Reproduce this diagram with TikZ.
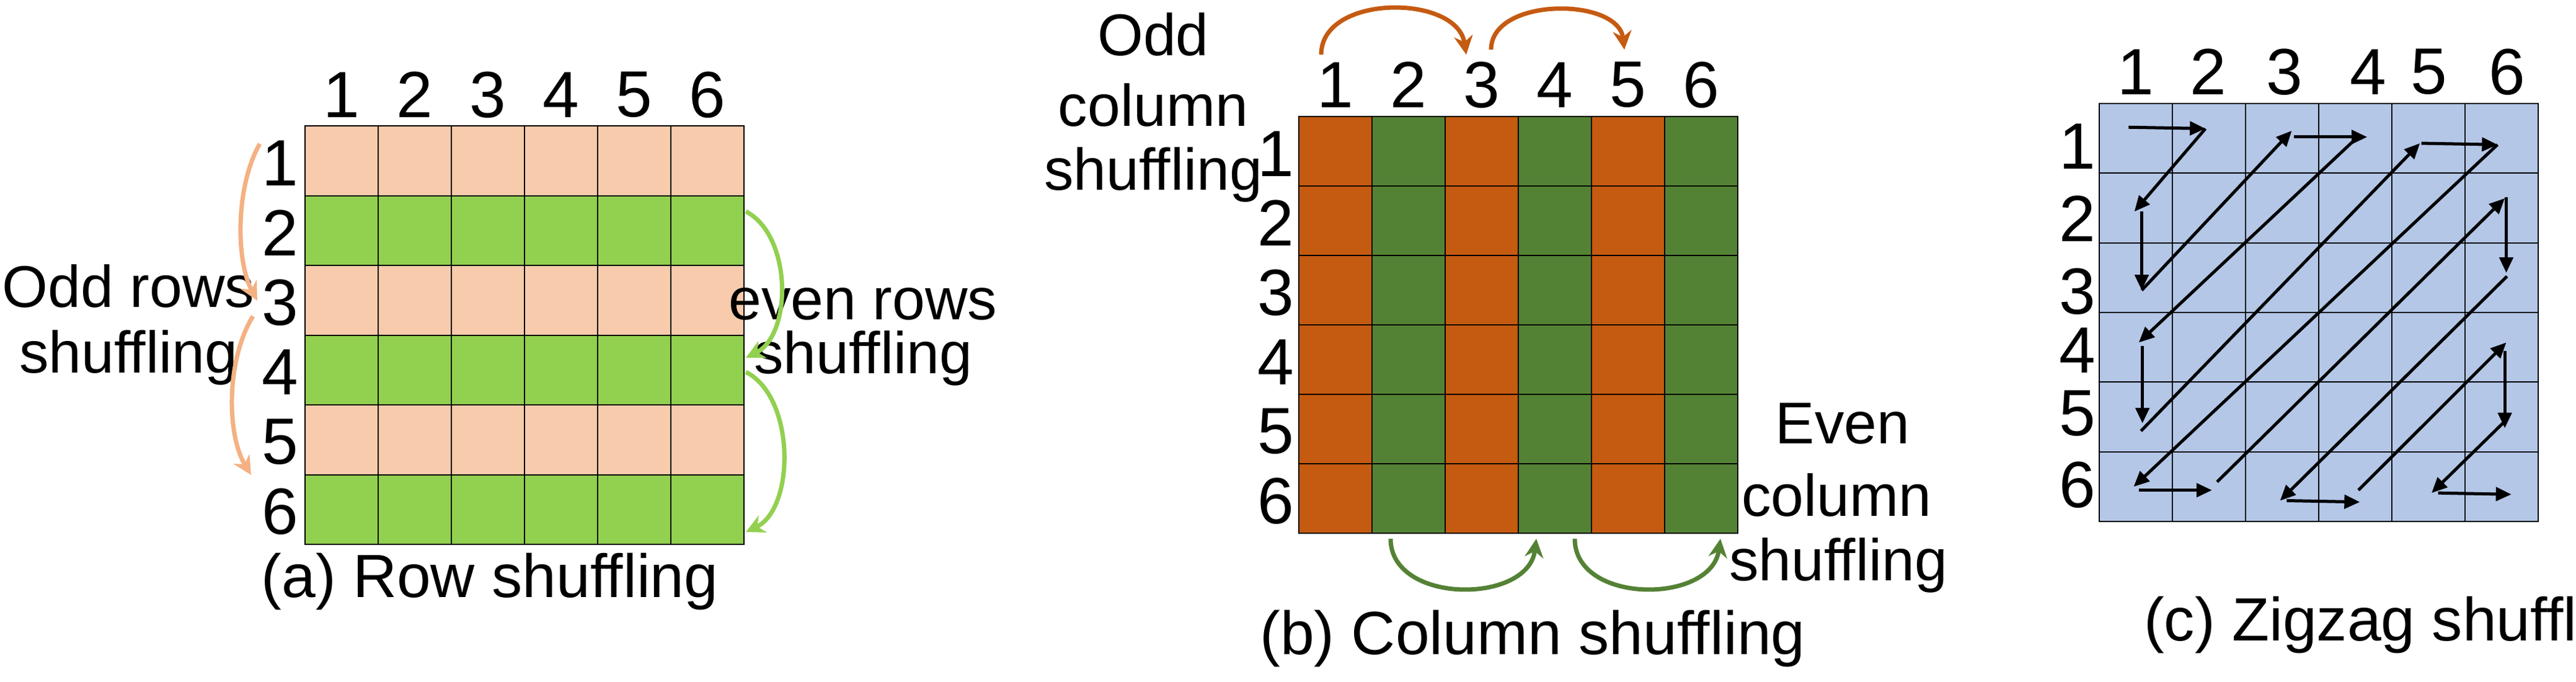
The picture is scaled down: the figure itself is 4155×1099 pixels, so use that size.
\documentclass[tikz,border=0pt]{standalone}
\usepackage{fontspec}
\setmainfont{Liberation Sans}
\usetikzlibrary{arrows.meta}
\definecolor{pinkA}{HTML}{F8CBAD}
\definecolor{greenA}{HTML}{92D050}
\definecolor{orA}{HTML}{F4B183}
\definecolor{orB}{HTML}{C55A11}
\definecolor{greenB}{HTML}{548235}
\definecolor{blueC}{HTML}{B4C7E7}
\tikzset{
  numtxt/.style={font=\fontsize{30}{36}\selectfont, inner sep=0pt},
  lbltxt/.style={font=\fontsize{27}{40}\selectfont, inner sep=0pt, align=center},
  captxt/.style={font=\fontsize{28}{34}\selectfont, inner sep=0pt},
  gridln/.style={draw=black, line width=0.02cm},
  curvarrow/.style={line width=0.07cm, -{Stealth[length=0.3cm,width=0.3cm]}},
  zzarrow/.style={line width=0.05cm, -{Triangle[length=0.25cm,width=0.22cm]}}
}
\begin{document}
\begin{tikzpicture}[x=0.01cm,y=-0.01cm]
\useasboundingbox (0,0) rectangle (4155,1099);
% ---------- (a) ----------
\foreach \r in {1,...,6}{
  \pgfmathsetmacro{\yy}{203+(\r-1)*112.5}
  \pgfmathsetmacro{\yl}{\yy+60}
  \pgfmathsetmacro{\xl}{551+(\r-1)*118}
  \ifodd\r \def\cc{pinkA}\else\def\cc{greenA}\fi
  \foreach \c in {1,...,6}{
    \pgfmathsetmacro{\xx}{492+(\c-1)*118}
    \path[fill=\cc, gridln] (\xx,\yy) rectangle ++(118,112.5);
  }
  \node[numtxt, anchor=east] (ar\r) at (482,\yl) {\r};
  \node[numtxt] (ac\r) at (\xl,153) {\r};
}
\node[lbltxt] (oddA) at (207,462) {Odd rows};
\node[lbltxt] (oddA2) at (207,577) {shuffling};
\node[lbltxt] (evA) at (1392,490) {even rows};
\node[lbltxt] (evA2) at (1392,578) {shuffling};
\coordinate (a1s) at (419,232); \coordinate (a1e) at (415,485);
\coordinate (a2s) at (408,510); \coordinate (a2e) at (405,766);
\coordinate (g1s) at (1203,341); \coordinate (g1e) at (1203,577);
\coordinate (g2s) at (1203,600); \coordinate (g2e) at (1203,858);
\draw[curvarrow, orA] (a1s) .. controls (380,300) and (380,420) .. (a1e);
\draw[curvarrow, orA] (a2s) .. controls (365,580) and (365,700) .. (a2e);
\draw[curvarrow, greenA] (g1s) .. controls (1278,380) and (1278,540) .. (g1e);
\draw[curvarrow, greenA] (g2s) .. controls (1283,640) and (1283,820) .. (g2e);
\node[captxt] (capA) at (790,938) {(a) Row shuffling};
% ---------- (b) ----------
\foreach \c in {1,...,6}{
  \pgfmathsetmacro{\xx}{2095+(\c-1)*118}
  \pgfmathsetmacro{\xl}{2154+(\c-1)*118}
  \pgfmathsetmacro{\yl}{248+(\c-1)*112}
  \ifodd\c \def\cc{orB}\else\def\cc{greenB}\fi
  \foreach \r in {1,...,6}{
    \pgfmathsetmacro{\yy}{188+(\r-1)*112}
    \path[fill=\cc, gridln] (\xx,\yy) rectangle ++(118,112);
  }
  \node[numtxt] (bc\c) at (\xl,137) {\c};
  \node[numtxt, anchor=east] (br\c) at (2088,\yl) {\c};
}
\node[lbltxt] (oddB1) at (1860,56) {Odd};
\node[lbltxt] (oddB2) at (1860,170) {column};
\node[lbltxt] (oddB3) at (1860,282) {shuffling};
\node[lbltxt] (evB1) at (2972,683) {Even};
\node[lbltxt] (evB2) at (2962,799) {column};
\node[lbltxt] (evB3) at (2965,912) {shuffling};
\coordinate (o1s) at (2131,88); \coordinate (o1e) at (2365,88);
\coordinate (o2s) at (2405,80); \coordinate (o2e) at (2620,80);
\coordinate (e1s) at (2243,869); \coordinate (e1e) at (2478,869);
\coordinate (e2s) at (2540,869); \coordinate (e2e) at (2775,869);
\draw[curvarrow, orB] (o1s) .. controls (2131,-10) and (2350,-10) .. (o1e);
\draw[curvarrow, orB] (o2s) .. controls (2405,-5) and (2610,-5) .. (o2e);
\draw[curvarrow, greenB] (e1s) .. controls (2243,975) and (2465,975) .. (e1e);
\draw[curvarrow, greenB] (e2s) .. controls (2540,975) and (2760,975) .. (e2e);
\node[captxt] (capB) at (2472,1030) {(b) Column shuffling};
% ---------- (c) ----------
\foreach \r in {1,...,6}{
  \foreach \c in {1,...,6}{
    \pgfmathsetmacro{\xx}{3386+(\c-1)*118}
    \pgfmathsetmacro{\yy}{167+(\r-1)*112.3}
    \path[fill=blueC, gridln] (\xx,\yy) rectangle ++(118,112.3);
  }
}
\foreach \t/\x in {1/3445,2/3562,3/3685,4/3820,5/3918,6/4044}{
  \node[numtxt] (cc\t) at (\x,116) {\t};
}
\foreach \t/\y in {1/236,2/353,3/470,4/565,5/667,6/782}{
  \node[numtxt] (cr\t) at (3351,\y) {\t};
}
\begin{scope}[shift={(3386,167)}, x=1.18cm, y=-1.123cm]
\foreach \ua/\va/\ub/\vb [count=\k] in {
  .40/.34/1.45/.36, 1.45/.36/.48/1.55, .58/1.55/.58/2.68, .58/2.68/2.63/.39,
  2.66/.48/3.66/.48, 3.49/.52/.54/3.43, .59/3.48/.59/4.59, .57/4.70/4.38/.57,
  4.40/.57/5.44/.59, 5.44/.59/.47/5.50, .54/5.55/1.54/5.55, 1.61/5.43/5.54/1.36,
  5.56/1.34/5.56/2.43, 5.57/2.48/2.47/5.70, 2.56/5.70/3.56/5.72, 3.54/5.55/5.56/3.43,
  5.54/3.55/5.54/4.66, 5.58/4.52/4.54/5.59, 4.63/5.59/5.63/5.61}{
  \coordinate (zs\k) at (\ua,\va);
  \coordinate (ze\k) at (\ub,\vb);
  \draw[zzarrow] (zs\k) -- (ze\k);
}
\end{scope}
\node[captxt] (capC) at (3873,1008) {(c) Zigzag shuffling};
\end{tikzpicture}
\end{document}
